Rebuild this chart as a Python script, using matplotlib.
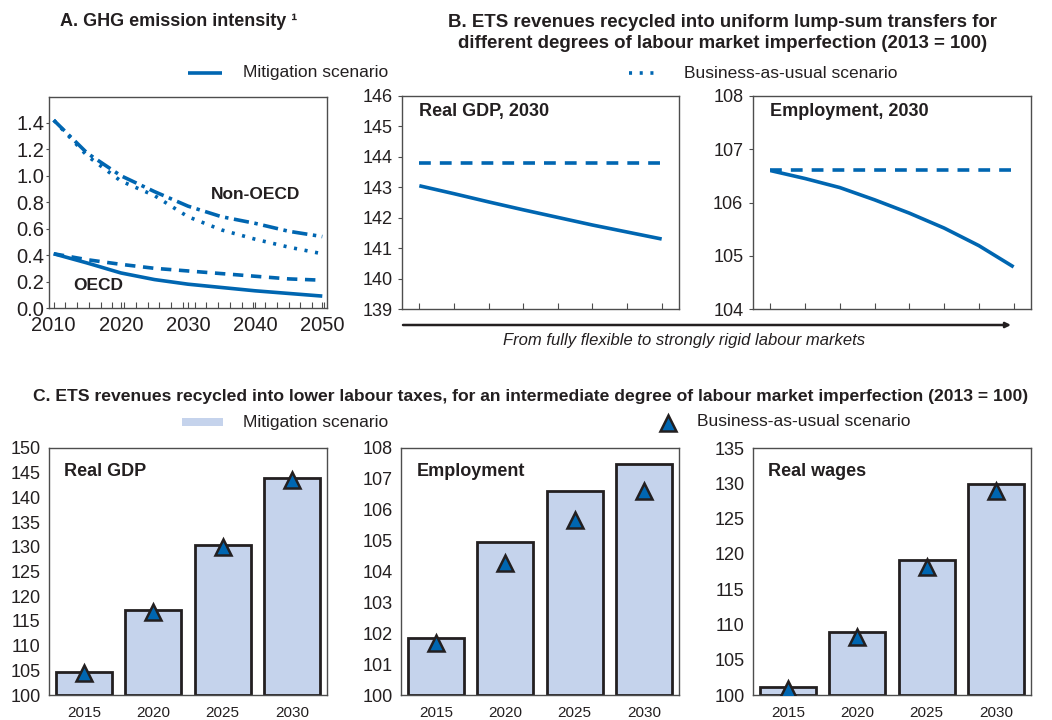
import matplotlib
matplotlib.use("Agg")
import matplotlib.pyplot as plt
from matplotlib.lines import Line2D
from matplotlib.patches import Rectangle, FancyArrowPatch
import numpy as np

plt.rcParams['font.family'] = ['Liberation Sans', 'DejaVu Sans']
plt.rcParams['lines.scale_dashes'] = False

# ---------------- data ----------------
years_a = [2010, 2015, 2020, 2025, 2030, 2035, 2040, 2045, 2050]
nonoecd_bau = [1.42, 1.17, 1.00, 0.88, 0.77, 0.69, 0.64, 0.58, 0.54]
nonoecd_mit = [1.42, 1.15, 0.96, 0.85, 0.69, 0.59, 0.52, 0.46, 0.41]
oecd_bau = [0.41, 0.365, 0.33, 0.30, 0.28, 0.26, 0.24, 0.22, 0.21]
oecd_mit = [0.41, 0.34, 0.265, 0.215, 0.18, 0.155, 0.13, 0.11, 0.09]

steps_b = list(range(8))
gdp_b_mit = [143.05, 142.79, 142.52, 142.26, 142.01, 141.76, 141.53, 141.30]
gdp_b_bau = [143.81] * 8
emp_b_mit = [106.60, 106.45, 106.28, 106.05, 105.80, 105.52, 105.19, 104.79]
emp_b_bau = [106.61] * 8

years_c = ['2015', '2020', '2025', '2030']
gdp_c_mit = [104.73, 117.23, 130.34, 143.85]
gdp_c_bau = [104.4, 116.8, 129.9, 143.6]
emp_c_mit = [101.86, 104.95, 106.60, 107.48]
emp_c_bau = [101.70, 104.29, 105.68, 106.60]
wage_c_mit = [101.18, 108.90, 119.16, 129.90]
wage_c_bau = [100.90, 108.15, 118.10, 128.85]

# ---------------- style ----------------
W, H = 1052, 720
BLUE = '#0066B1'
BAR = '#C5D3EC'
EDGE = '#231F20'
SPINE = '#4D4D4D'
TXT = '#231F20'

fig = plt.figure(figsize=(W / 100, H / 100), dpi=100)


def px_axes(l, r, t, b):
    return fig.add_axes([l / W, 1 - b / H, (r - l) / W, (b - t) / H])


def ftext(x, y, s, **kw):
    kw.setdefault('color', TXT)
    return fig.text(x / W, 1 - y / H, s, **kw)


def style_spines(ax):
    for sp in ax.spines.values():
        sp.set_color(SPINE)
        sp.set_linewidth(1.0)


# ---------------- panel A ----------------
axA = px_axes(49, 327, 97, 308)
style_spines(axA)
axA.plot(years_a, nonoecd_bau, color=BLUE, lw=2.6, dashes=(11, 4, 2.5, 4), solid_capstyle='butt')
axA.plot(years_a, nonoecd_mit, color=BLUE, lw=2.6, dashes=(2.2, 5.5), dash_capstyle='butt')
axA.plot(years_a, oecd_bau, color=BLUE, lw=2.6, dashes=(7.5, 5.5), dash_capstyle='butt')
axA.plot(years_a, oecd_mit, color=BLUE, lw=2.6, solid_capstyle='butt')
axA.set_xlim(2009.3, 2050.7)
axA.set_ylim(0, 1.595)
axA.set_yticks(np.arange(0, 1.41, 0.2))
axA.set_yticklabels([f'{v:.1f}' for v in np.arange(0, 1.41, 0.2)])
axA.set_xticks([2010, 2020, 2030, 2040, 2050])
axA.set_xticks(np.arange(2010, 2051, 1.75), minor=True)
axA.tick_params(axis='x', which='both', direction='in', length=4, width=0.8, color=SPINE,
                labelsize=14.5, pad=6, labelcolor=TXT)
axA.tick_params(axis='y', direction='out', length=2.5, width=0.8, color=SPINE,
                labelsize=14.5, pad=1, labelcolor=TXT)
axA.text(2040, 0.86, 'Non-OECD', ha='center', va='center', fontsize=12.5,
         fontweight='bold', color=TXT)
axA.text(2016.6, 0.17, 'OECD', ha='center', va='center', fontsize=12.5,
         fontweight='bold', color=TXT)

# ---------------- panel B ----------------
axB1 = px_axes(402, 679, 96, 309)
axB2 = px_axes(753, 1031, 96, 309)
for ax, mit, bau, lims, lab in [(axB1, gdp_b_mit, gdp_b_bau, (139, 146), 'Real GDP, 2030'),
                                (axB2, emp_b_mit, emp_b_bau, (104, 108), 'Employment, 2030')]:
    style_spines(ax)
    ax.plot(steps_b, bau, color=BLUE, lw=2.6, dashes=(8.5, 6.5), dash_capstyle='butt')
    ax.plot(steps_b, mit, color=BLUE, lw=2.6, solid_capstyle='butt')
    ax.set_xlim(-0.5, 7.5)
    ax.set_ylim(*lims)
    ax.set_yticks(np.arange(lims[0], lims[1] + 1, 1))
    ax.set_xticks(steps_b)
    ax.set_xticklabels([])
    ax.tick_params(axis='x', direction='in', length=4, width=0.8, color=SPINE)
    ax.tick_params(axis='y', direction='out', length=3, width=0.8, color=SPINE,
                   labelsize=13, pad=4, labelcolor=TXT)
    ax.text(0.062, 0.925, lab, transform=ax.transAxes, ha='left', va='center',
            fontsize=13, fontweight='bold', color=TXT)

# arrow under panel B
arr = FancyArrowPatch((403 / W, 1 - 325 / H), (1011 / W, 1 - 325 / H),
                      transform=fig.transFigure, arrowstyle='-|>,head_length=3,head_width=1.5',
                      color=EDGE, lw=1.8, shrinkA=0, shrinkB=0)
fig.add_artist(arr)
ftext(684, 341, 'From fully flexible to strongly rigid labour markets', ha='center',
      va='center', fontsize=12, style='italic')

# ---------------- titles & legends (top) ----------------
ftext(60, 22, 'A. GHG emission intensity \u00b9', ha='left', va='center',
      fontsize=13, fontweight='bold')
ftext(723, 33, 'B. ETS revenues recycled into uniform lump-sum transfers for\n'
      'different degrees of labour market imperfection (2013 = 100)',
      ha='center', va='center', fontsize=13.4, fontweight='bold', linespacing=1.27)

fig.add_artist(Line2D([188 / W, 222 / W], [1 - 73 / H] * 2, transform=fig.transFigure,
                      color=BLUE, lw=2.6, solid_capstyle='butt'))
ftext(243, 73, 'Mitigation scenario', ha='left', va='center', fontsize=12.5)
fig.add_artist(Line2D([629 / W, 660 / W], [1 - 73 / H] * 2, transform=fig.transFigure,
                      color=BLUE, lw=2.6, dashes=(2.2, 5.5), dash_capstyle='butt'))
ftext(684, 73, 'Business-as-usual scenario', ha='left', va='center', fontsize=12.5)

# ---------------- panel C ----------------
ftext(33, 397, 'C. ETS revenues recycled into lower labour taxes, for an intermediate '
      'degree of labour market imperfection (2013 = 100)', ha='left', va='center',
      fontsize=12.6, fontweight='bold')
fig.add_artist(Rectangle((182 / W, 1 - 426 / H), 41 / W, 8 / H, transform=fig.transFigure,
                         facecolor=BAR, edgecolor='none'))
ftext(243, 422, 'Mitigation scenario', ha='left', va='center', fontsize=12.5)
fig.add_artist(Line2D([668 / W], [1 - 423 / H], transform=fig.transFigure, marker='^',
                      markersize=11.5, markerfacecolor=BLUE, markeredgecolor=EDGE,
                      markeredgewidth=1.8, linestyle='none'))
ftext(697, 422, 'Business-as-usual scenario', ha='left', va='center', fontsize=12.5)

xc = np.arange(len(years_c))
panelsC = [((49, 327), gdp_c_mit, gdp_c_bau, (100, 150), 5, 'Real GDP'),
           ((401, 679), emp_c_mit, emp_c_bau, (100, 108), 1, 'Employment'),
           ((753, 1031), wage_c_mit, wage_c_bau, (100, 135), 5, 'Real wages')]
for (l, r), mit, bau, lims, step, lab in panelsC:
    ax = px_axes(l, r, 448, 695)
    style_spines(ax)
    ax.bar(xc, np.array(mit) - lims[0], bottom=lims[0], width=0.81, color=BAR,
           edgecolor=EDGE, linewidth=2.0, zorder=2)
    ax.plot(xc, bau, linestyle='none', marker='^', markersize=11.5, markerfacecolor=BLUE,
            markeredgecolor=EDGE, markeredgewidth=1.8, zorder=3)
    ax.set_xlim(-0.5, 3.5)
    ax.set_ylim(*lims)
    ax.set_yticks(np.arange(lims[0], lims[1] + 0.1, step))
    ax.set_xticks(xc)
    ax.set_xticklabels(years_c)
    ax.tick_params(axis='x', length=0, labelsize=11, pad=8, labelcolor=TXT)
    ax.tick_params(axis='y', length=0, labelsize=13, pad=6, labelcolor=TXT)
    ax.text(0.055, 0.905, lab, transform=ax.transAxes, ha='left', va='center',
            fontsize=13, fontweight='bold', color=TXT)

fig.savefig('out.png', dpi=100)
